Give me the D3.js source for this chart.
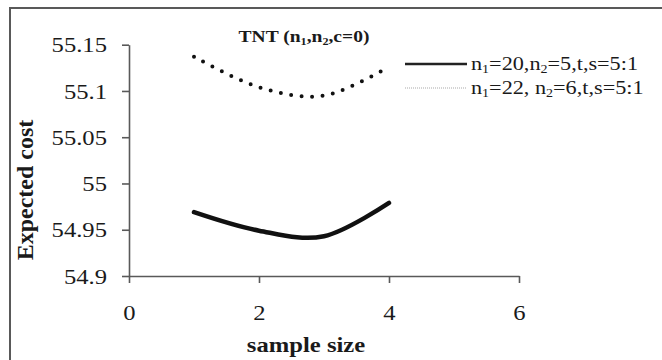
<!DOCTYPE html>
<html>
<head>
<meta charset="utf-8">
<script src="https://d3js.org/d3.v7.min.js"></script>
<style>
  body { margin: 0; background: #fff; }
  text { font-family: "Liberation Serif", "Times New Roman", serif; fill: #1a1a1a; }
</style>
</head>
<body>
<svg id="chart"></svg>
<script>
// data
const sampleSize = [1, 2, 3, 4];
const costA = [54.969, 54.949, 54.943, 54.979];   // n1=20, n2=5
const costB = [55.137, 55.104, 55.095, 55.126];   // n1=22, n2=6
const xTicks = [0, 2, 4, 6];
const yTicks = [54.9, 54.95, 55, 55.05, 55.1, 55.15];

const width = 662, height = 360;
const svg = d3.select("#chart").attr("width", width).attr("height", height);

// the picture looks a bit stretched sideways, so text gets widened too
function stretch(sel, sx) {
  sel.each(function() {
    const t = d3.select(this);
    const tx = +t.attr("x") || 0, ty = +t.attr("y") || 0;
    t.attr("x", 0).attr("y", 0)
     .attr("transform", `translate(${tx},${ty}) scale(${sx},1)`);
  });
}

// frame around the chart area
svg.append("rect")
   .attr("x", 10).attr("y", 8)
   .attr("width", 700).attr("height", 400)
   .attr("fill", "none").attr("stroke", "#595959").attr("stroke-width", 2);

const x = d3.scaleLinear().domain([0, 6]).range([129, 519]);
const y = d3.scaleLinear().domain([54.9, 55.15]).range([276, 44.7]);

const fmt = d => String(+d.toFixed(2));

const gx = svg.append("g").attr("transform", "translate(0,276)")
    .call(d3.axisBottom(x).tickValues(xTicks).tickSize(7).tickSizeOuter(0).tickPadding(21).tickFormat(fmt));
const gy = svg.append("g").attr("transform", "translate(129,0)")
    .call(d3.axisLeft(y).tickValues(yTicks).tickSize(7).tickSizeOuter(0).tickPadding(15).tickFormat(fmt));

[gx, gy].forEach(g => {
  g.select(".domain").attr("stroke", "#595959").attr("stroke-width", 1.6);
  g.selectAll(".tick line").attr("stroke", "#595959").attr("stroke-width", 1.6);
  g.selectAll(".tick text")
   .attr("font-family", "Liberation Serif").attr("font-size", 22).attr("fill", "#1a1a1a");
});
gy.selectAll(".tick text").attr("x", -22).call(stretch, 1.12);
gx.selectAll(".tick text").call(stretch, 1.12);

// series lines
const line = d3.line()
  .x((d, i) => x(sampleSize[i]))
  .y(d => y(d))
  .curve(d3.curveCardinal);

svg.append("path").datum(costA)
   .attr("d", line)
   .attr("fill", "none").attr("stroke", "#111").attr("stroke-width", 4.5)
   .attr("stroke-linecap", "round");

svg.append("path").datum(costB)
   .attr("d", line)
   .attr("fill", "none").attr("stroke", "#111").attr("stroke-width", 4)
   .attr("stroke-linecap", "round").attr("stroke-dasharray", "0,10.5");

// title
const title = svg.append("text").attr("x", 304).attr("y", 42)
   .attr("text-anchor", "middle").attr("font-size", 16).attr("font-weight", "bold");
title.append("tspan").text("TNT (n");
title.append("tspan").attr("font-size", 10).attr("dy", 3).text("1");
title.append("tspan").attr("dy", -3).text(",n");
title.append("tspan").attr("font-size", 10).attr("dy", 3).text("2");
title.append("tspan").attr("dy", -3).text(",c=0)");
title.call(stretch, 1.22);

// axis titles
svg.append("text").attr("x", 306).attr("y", 352)
   .attr("text-anchor", "middle").attr("font-size", 22).attr("font-weight", "bold")
   .text("sample size")
   .call(stretch, 1.12);

svg.append("text")
   .attr("transform", "translate(33,190) rotate(-90)")
   .attr("text-anchor", "middle").attr("font-size", 24).attr("font-weight", "bold")
   .text("Expected cost");

// legend
const legend = [
  {n1: "20", n2: "5", sep: ",", y: 64, solid: true},
  {n1: "22", n2: "6", sep: ", ", y: 88, solid: false}
];
legend.forEach(l => {
  const ln = svg.append("line")
     .attr("x1", 405).attr("x2", 467).attr("y1", l.y).attr("y2", l.y);
  if (l.solid) ln.attr("stroke", "#222").attr("stroke-width", 2.5);
  else ln.attr("stroke", "#aaa").attr("stroke-width", 1.2).attr("stroke-dasharray", "1,1");
  const t = svg.append("text").attr("x", 471).attr("y", l.y + 6).attr("font-size", 19);
  t.append("tspan").text("n");
  t.append("tspan").attr("font-size", 12).attr("dy", 3).text("1");
  t.append("tspan").attr("dy", -3).text("=" + l.n1 + l.sep + "n");
  t.append("tspan").attr("font-size", 12).attr("dy", 3).text("2");
  t.append("tspan").attr("dy", -3).text("=" + l.n2 + ",t,s=5:1");
  t.call(stretch, 1.17);
});
</script>
</body>
</html>
